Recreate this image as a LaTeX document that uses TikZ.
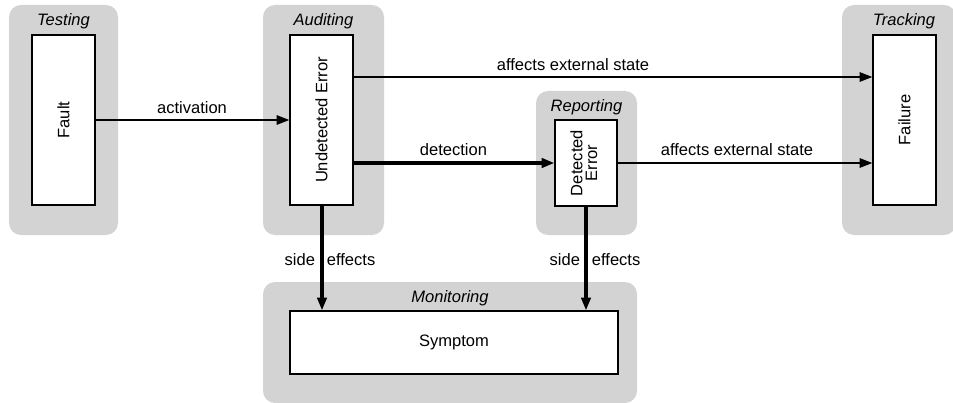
\documentclass[tikz,border=0pt]{standalone}
\usepackage{fontspec}
\setmainfont{Liberation Sans}
\usetikzlibrary{arrows.meta}
\definecolor{grp}{RGB}{211,211,211}
\newcommand{\fs}{\fontsize{12.4}{14}\selectfont}
\begin{document}
\begin{tikzpicture}[x=0.75pt,y=-0.75pt,
  group/.style={fill=grp,draw=none,rounded corners=9pt},
  box/.style={draw=black,line width=1pt,fill=white,inner sep=0pt},
  title/.style={font=\itshape\fs,inner sep=0pt,anchor=center},
  lbl/.style={font=\fs,inner sep=0pt,anchor=center},
  conn/.style={line width=1.5pt,-{Triangle[length=9.5pt,width=7pt]}},
  thick conn/.style={line width=2.3pt,-{Triangle[length=9.5pt,width=7pt]}}]
\useasboundingbox (0,0) rectangle (953,403);
\begin{scope}
\clip (0,0) rectangle (953,403);
% groups
\fill[group] (9,5) rectangle (118,235);
\fill[group] (263,5) rectangle (384,235);
\fill[group] (842,5) rectangle (956,235);
\fill[group] (536,91) rectangle (637,235);
\fill[group] (263,282) rectangle (637,403);
\end{scope}
% titles
\node[title] (tTesting) at (63.5,21.5) {Testing};
\node[title] (tAuditing) at (323.5,21.5) {Auditing};
\node[title] (tTracking) at (904,21.5) {Tracking};
\node[title] (tReporting) at (586.5,107) {Reporting};
\node[title] (tMonitoring) at (450,298) {Monitoring};
% boxes
\node[box,minimum width=63*0.75pt,minimum height=170*0.75pt] (fault) at (63.5,120)
  {\rotatebox{90}{\fs Fault}};
\node[box,minimum width=63*0.75pt,minimum height=170*0.75pt] (ue) at (321.5,120)
  {\rotatebox{90}{\fs Undetected Error}};
\node[box,minimum width=63*0.75pt,minimum height=170*0.75pt] (fail) at (904.5,120)
  {\rotatebox{90}{\fs Failure}};
\node[box,minimum width=62*0.75pt,minimum height=86*0.75pt] (de) at (586,163)
  {\rotatebox{90}{\fs\begin{tabular}{@{}c@{}}Detected\\[-3pt]Error\end{tabular}}};
\node[box,minimum width=328*0.75pt,minimum height=63*0.75pt] (sym) at (454,342.5)
  {\fs Symptom};
% connectors
\coordinate (ueA) at (ue.east |- 0,77);
\coordinate (failA) at (fail.west |- 0,77);
\coordinate (ueB) at (ue.east |- 0,163);
\coordinate (failB) at (fail.west |- 0,163);
\coordinate (ueS) at (322,0);
\coordinate (deS) at (586,0);
\draw[conn] (fault.east |- 0,120) -- (ue.west |- 0,120);
\draw[conn] (ueA) -- (failA);
\draw[thick conn] (ueB) -- (de.west |- 0,163);
\draw[conn] (de.east |- 0,163) -- (failB);
\draw[thick conn] (ueS |- ue.south) -- (ueS |- sym.north);
\draw[thick conn] (deS |- de.south) -- (deS |- sym.north);
% labels
\node[lbl] (lAct) at (192,108) {activation};
\node[lbl] (lAff1) at (573,65) {affects external state};
\node[lbl] (lDet) at (453.5,150) {detection};
\node[lbl] (lAff2) at (737,150) {affects external state};
\node[lbl] (lSide1) at (330,260) {side\hspace{0.72em}effects};
\node[lbl] (lSide2) at (595,260) {side\hspace{0.72em}effects};
\end{tikzpicture}
\end{document}
